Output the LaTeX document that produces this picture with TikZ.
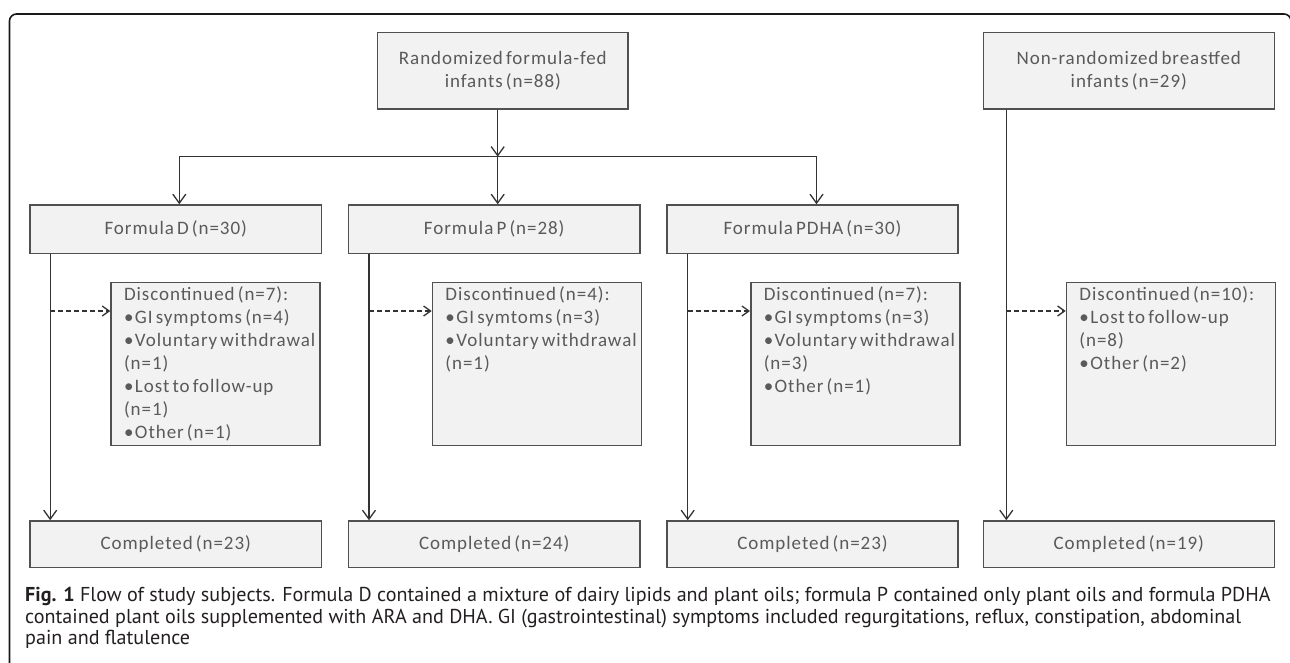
\documentclass[tikz,border=0pt]{standalone}
\usepackage{fontspec}
\setmainfont{Carlito}[LetterSpace=5,WordSpace=0.6]
\newfontfamily\capfont{PT Sans}
\usetikzlibrary{arrows.meta}
\definecolor{boxfill}{HTML}{F2F2F2}
\definecolor{boxline}{HTML}{505050}
\definecolor{boxtext}{HTML}{5A5A5A}
\definecolor{conn}{HTML}{333333}
\definecolor{captext}{HTML}{231F20}
\newcommand{\disclist}[1]{\parbox[c][163pt][t]{183pt}{\raggedright\hfuzz=20pt\rule{0pt}{18.3pt}#1}}
\newcommand{\bl}[1]{\mbox{•\kern1.5pt #1}}
\tikzset{
  boxbase/.style={draw=boxline, fill=boxfill, line width=1.5pt, text=boxtext,
    font=\fontsize{19}{23}\selectfont},
  fbox/.style={boxbase, inner sep=0pt, align=center, minimum width=291pt},
  discbox/.style={boxbase, inner xsep=13pt, inner ysep=0pt, anchor=north west},
  conline/.style={draw=conn, line width=1.3pt},
  arr/.style={conline, -{Straight Barb[length=9pt,width=13pt]}},
  darr/.style={conline, dash pattern=on 5pt off 3pt, -{Straight Barb[length=7pt,width=10pt]}},
  frameline/.style={draw=black!90, line width=1.6pt, rounded corners=7pt},
  captionnode/.style={inner sep=0pt, anchor=north west, text=captext,
    font=\capfont\fontsize{20.1}{21.5}\selectfont}
}
\begin{document}
\begin{tikzpicture}[x=1pt,y=-1pt]
\path[use as bounding box] (0,0) rectangle (1290,662);
\begin{scope}
\clip (0,0) rectangle (1290,662);
\draw[frameline] (9.5,700) -- (9.5,14) -- (1291,14) -- (1291,700);
\end{scope}

% top row
\node[fbox, minimum width=250.3pt, minimum height=76.3pt] (R) at (502.85,70.85) {Randomized formula-fed\\infants (n=88)};
\node[fbox, minimum height=76.3pt] (NR) at (1128.8,70.85) {Non-randomized breastfed\\infants (n=29)};

% formula row
\node[fbox, minimum width=291.5pt, minimum height=48.3pt] (D) at (175.75,229.15) {Formula D (n=30)};
\node[fbox, minimum width=291.5pt, minimum height=48.3pt] (P) at (494.25,229.15) {Formula P (n=28)};
\node[fbox, minimum height=48.3pt] (PDHA) at (812.5,229.15) {Formula PDHA (n=30)};

% discontinued boxes
\node[discbox] (DD) at (110.3,281.7) {\disclist{\mbox{Discontinued (n=7):}\\\bl{GI symptoms (n=4)}\\\bl{Voluntary withdrawal}\\(n=1)\\\bl{Lost to follow-up}\\(n=1)\\\bl{Other (n=1)}}};
\node[discbox] (DP) at (431.7,281.7) {\disclist{\mbox{Discontinued (n=4):}\\\bl{GI symtoms (n=3)}\\\bl{Voluntary withdrawal}\\(n=1)}};
\node[discbox] (DPDHA) at (750,281.7) {\disclist{\mbox{Discontinued (n=7):}\\\bl{GI symptoms (n=3)}\\\bl{Voluntary withdrawal}\\(n=3)\\\bl{Other (n=1)}}};
\node[discbox] (DNR) at (1065.7,281.7) {\disclist{\mbox{Discontinued (n=10):}\\\bl{Lost to follow-up}\\(n=8)\\\bl{Other (n=2)}}};

% completed row
\node[fbox, minimum width=291.5pt, minimum height=46.3pt] (CD) at (175.75,544.15) {Completed (n=23)};
\node[fbox, minimum width=291.5pt, minimum height=46.3pt] (CP) at (494.25,544.15) {Completed (n=24)};
\node[fbox, minimum height=46.3pt] (CPDHA) at (812.5,544.15) {Completed (n=23)};
\node[fbox, minimum height=46.3pt] (CNR) at (1128.8,544.15) {Completed (n=19)};

% randomization split
\coordinate (split) at (497.7,156.7);
\coordinate (hl) at (179.3,156.7);
\coordinate (hr) at (816.5,156.7);
\draw[arr] (R.south -| split) -- (split);
\draw[conline] (hl) -- (hr);
\draw[arr] (hl) -- (hl |- D.north);
\draw[arr] (split) -- (split |- P.north);
\draw[arr] (hr) -- (hr |- PDHA.north);

% follow-up lines
\coordinate (dD) at (50.2,311);
\coordinate (dP) at (369,311);
\coordinate (dPDHA) at (687.7,311);
\coordinate (dNR) at (1006.3,311);
\draw[arr] (D.south -| dD) -- (CD.north -| dD);
\draw[arr] (P.south -| dP) -- (CP.north -| dP);
\draw[arr] (PDHA.south -| dPDHA) -- (CPDHA.north -| dPDHA);
\draw[arr] (NR.south -| dNR) -- (CNR.north -| dNR);
\draw[darr] (dD) -- (dD -| DD.west);
\draw[darr] (dP) -- (dP -| DP.west);
\draw[darr] (dPDHA) -- (dPDHA -| DPDHA.west);
\draw[darr] (dNR) -- (dNR -| DNR.west);

% caption
\node[captionnode] (cap) at (25,585.7) {\parbox[t]{1264pt}{\raggedright\rule{0pt}{16pt}\textbf{Fig. 1} Flow of study subjects. Formula D contained a mixture of dairy lipids and plant oils; formula P contained only plant oils and formula PDHA\\contained plant oils supplemented with ARA and DHA. GI (gastrointestinal) symptoms included regurgitations, reflux, constipation, abdominal\\pain and flatulence}};
\end{tikzpicture}
\end{document}
